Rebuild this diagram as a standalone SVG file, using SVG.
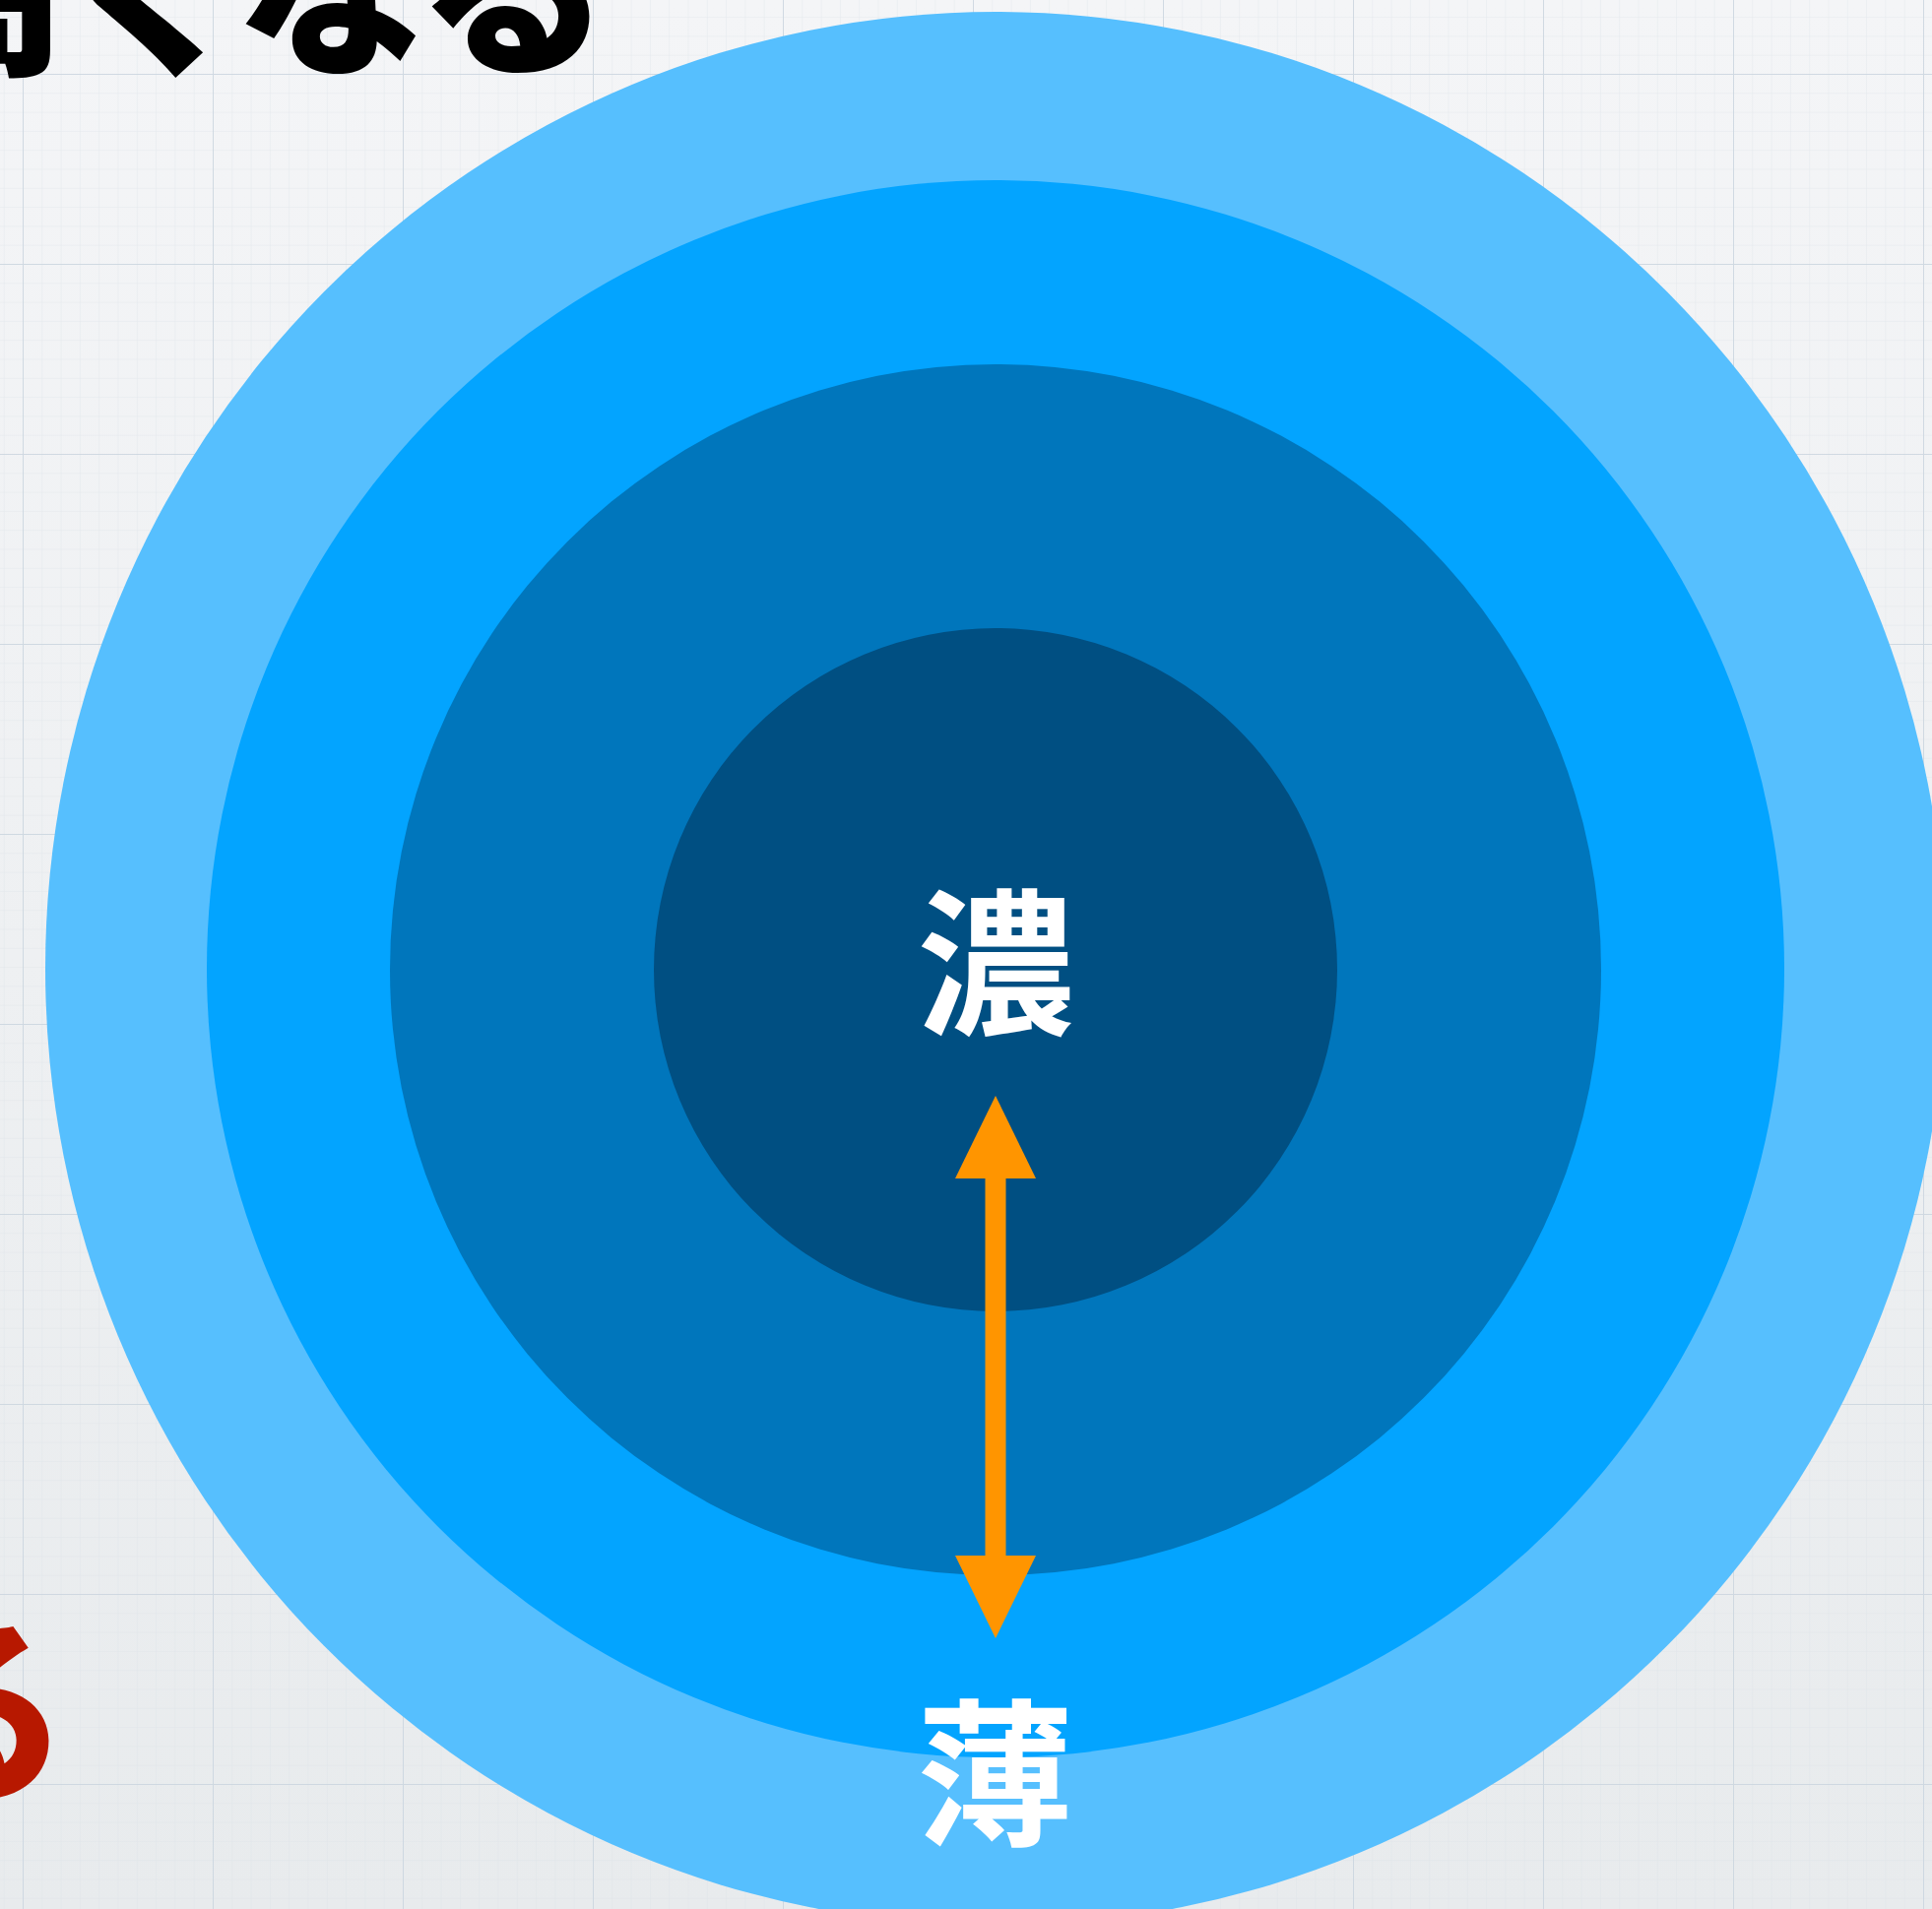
<svg xmlns="http://www.w3.org/2000/svg" width="1962" height="1939" viewBox="0 0 1962 1939">
  <defs>
    <pattern id="minor" x="23" y="75" width="19.3" height="19.3" patternUnits="userSpaceOnUse">
      <path d="M0 0H19.3M0 0V19.3" fill="none" stroke="#d9e0e6" stroke-width="1"/>
    </pattern>
    <pattern id="major" x="23" y="75" width="193" height="193" patternUnits="userSpaceOnUse">
      <path d="M0 0H193M0 0V193" fill="none" stroke="#c9d4de" stroke-width="2"/>
    </pattern>
    <linearGradient id="bgfade" x1="0" y1="0" x2="0" y2="1">
      <stop offset="0" stop-color="#f4f5f7"/>
      <stop offset="1" stop-color="#e8ebed"/>
    </linearGradient>
    <marker id="head" viewBox="0 0 84 82" refX="0" refY="41" markerWidth="84" markerHeight="82" markerUnits="userSpaceOnUse" orient="auto-start-reverse">
      <path d="M0 0L84 41L0 82Z" fill="#ff9500"/>
    </marker>
    <style>
      .kana { font-family: "Noto Sans CJK JP", "Noto Sans CJK SC", sans-serif; font-weight: 900; }
      .label { font-family: "Noto Sans CJK JP", "Noto Sans CJK SC", sans-serif; font-weight: 700; font-size: 160px; fill: #ffffff; text-anchor: middle; }
      .conn { stroke: #ff9500; stroke-width: 21; fill: none; }
    </style>
  </defs>

  <g id="background">
    <rect width="1962" height="1939" fill="url(#bgfade)"/>
    <rect width="1962" height="1939" fill="url(#minor)" opacity="0.6"/>
    <rect width="1962" height="1939" fill="url(#major)" opacity="0.8"/>
  </g>

  <g id="title-fragment">
    <text class="kana" x="-128" y="60" font-size="196" letter-spacing="-12" fill="#000000">高くなる</text>
  </g>
  <g id="red-fragment">
    <text class="kana" x="72" y="1814" font-size="205" fill="#b71800" text-anchor="end">る</text>
  </g>

  <g id="ring-outer">
    <ellipse cx="1011" cy="984" rx="965" ry="972" fill="#56bffe"/>
  </g>
  <g id="ring-second">
    <circle cx="1011" cy="984" r="801" fill="#03a4ff"/>
  </g>
  <g id="ring-third">
    <circle cx="1011" cy="985" r="615" fill="#0076bc"/>
  </g>
  <g id="ring-core">
    <circle cx="1011" cy="985" r="347" fill="#004f82"/>
  </g>

  <g id="connectors">
    <line class="conn" x1="1011" y1="1197" x2="1011" y2="1580" marker-start="url(#head)" marker-end="url(#head)"/>
  </g>

  <g id="label-dense">
    <text class="label" x="1011" y="1039">濃</text>
  </g>
  <g id="label-thin">
    <text class="label" x="1011" y="1862">薄</text>
  </g>
</svg>
